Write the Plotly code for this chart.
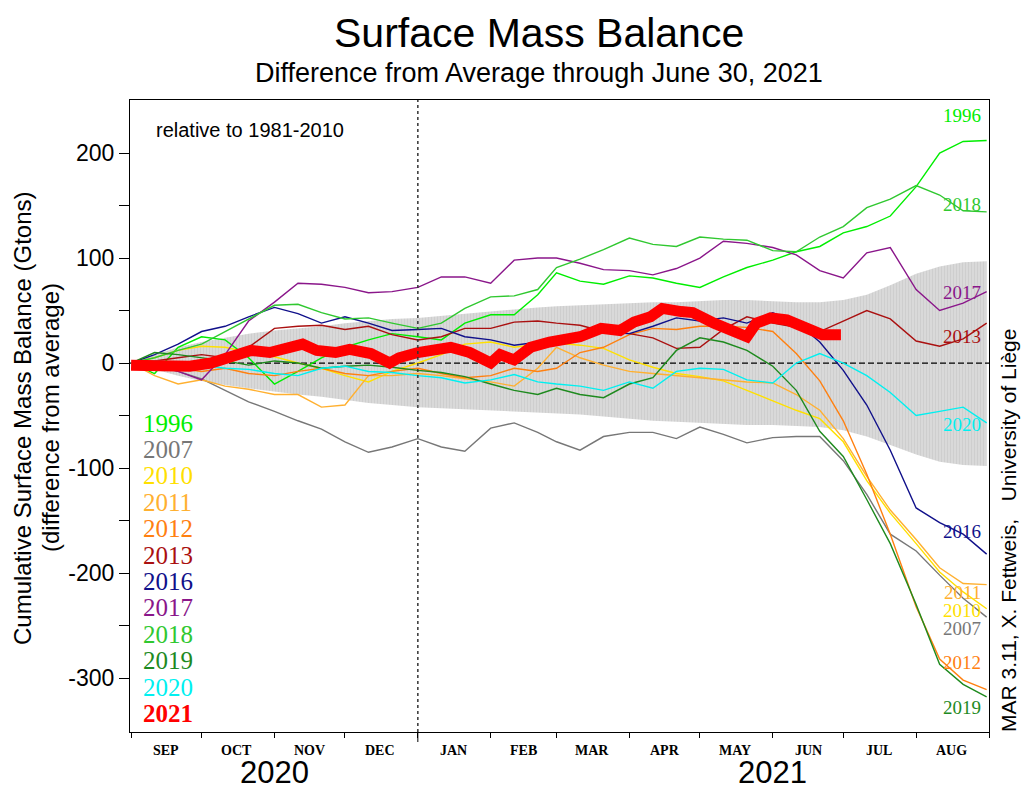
import plotly.graph_objects as go

# ---------------- data (Gt, difference from 1981-2010 average) ----------------
GRID_DATES = ["2020-09-01", "2020-09-11", "2020-09-21", "2020-10-01", "2020-10-11", "2020-10-21",
              "2020-11-01", "2020-11-11", "2020-11-21", "2020-12-01", "2020-12-11", "2020-12-21",
              "2021-01-01", "2021-01-11", "2021-01-21", "2021-02-01", "2021-02-11", "2021-02-21",
              "2021-03-01", "2021-03-11", "2021-03-21", "2021-04-01", "2021-04-11", "2021-04-21",
              "2021-05-01", "2021-05-11", "2021-05-21", "2021-06-01", "2021-06-11", "2021-06-21",
              "2021-07-01", "2021-07-11", "2021-07-21", "2021-08-01", "2021-08-11", "2021-08-21",
              "2021-08-31"]

BAND_UPPER = [0, 8, 15, 20, 24, 28, 31, 33, 35, 38, 40, 42, 43, 45, 47, 49, 51, 53, 54, 55, 56, 57,
              58, 58, 59, 60, 60, 59, 58, 58, 60, 65, 74, 85, 92, 96, 97]
BAND_LOWER = [0, -6, -12, -17, -21, -24, -27, -30, -32, -35, -38, -40, -42, -43, -44, -45, -46, -47,
              -48, -49, -51, -53, -55, -56, -57, -58, -59, -59, -60, -61, -64, -70, -78, -87, -94,
              -97, -98]

Y1996 = [0, -10, 15, 25, 22, 5, -20, -8, 5, 15, 22, 28, 25, 22, 38, 46, 46, 65, 86, 78, 75, 83, 81,
         76, 72, 82, 91, 98, 106, 111, 124, 130, 140, 168, 200, 211, 212]
Y2007 = [0, -2, -8, -15, -26, -37, -46, -55, -63, -75, -85, -80, -72, -80, -84, -62, -57, -66, -75,
         -83, -70, -66, -66, -72, -61, -68, -76, -71, -70, -70, -93, -125, -163, -179, -202, -224, -242]
Y2010 = [0, 5, 12, 16, 15, 10, 6, 0, -5, -12, -18, -8, 0, 8, 18, 20, 15, 18, 19, 17, 14, 3, -4, -10,
         -13, -17, -26, -36, -45, -53, -75, -112, -143, -172, -199, -218, -234]
Y2011 = [0, -12, -20, -16, -22, -25, -30, -30, -42, -40, -12, -12, -10, -12, -15, -18, -22, -5, 15, 5,
         -2, -8, -10, -12, -14, -16, -18, -19, -30, -45, -72, -108, -140, -168, -195, -210, -211]
Y2012 = [0, -3, -5, -8, -5, -10, -12, -8, -5, -10, -12, -8, -5, -10, -14, -12, -5, -8, -5, 10, 15, 27,
         33, 32, 35, 35, 34, 30, 9, -17, -55, -106, -163, -232, -282, -302, -311]
Y2013 = [0, 2, 5, 8, 5, 15, 33, 35, 36, 32, 35, 27, 22, 25, 33, 33, 39, 40, 38, 36, 30, 28, 24, 14,
         15, 32, 44, 38, 34, 30, 40, 50, 42, 21, 16, 23, 38]
Y2016 = [0, 8, 18, 30, 35, 44, 53, 47, 38, 44, 38, 31, 32, 33, 25, 22, 17, 20, 22, 25, 29, 28, 35, 43,
         40, 43, 38, 48, 39, 20, -7, -40, -83, -138, -152, -163, -182]
Y2017 = [0, -3, -8, -16, 8, 40, 58, 76, 75, 72, 67, 68, 72, 82, 82, 76, 98, 100, 100, 95, 89, 88, 84,
         90, 100, 116, 114, 110, 103, 88, 81, 105, 110, 70, 50, 57, 68]
Y2018 = [0, 5, 12, 18, 30, 42, 55, 56, 48, 42, 43, 38, 33, 38, 52, 63, 64, 70, 91, 99, 108, 119, 113,
         111, 120, 118, 117, 107, 106, 120, 130, 148, 156, 169, 160, 145, 144]
Y2019 = [0, 10, 8, 5, 2, -2, 2, 0, -5, -3, -2, -4, -7, -9, -13, -20, -26, -30, -24, -30, -33, -20,
         -14, 12, 24, 20, 12, -3, -26, -65, -89, -130, -172, -230, -287, -306, -318]
Y2020 = [0, 2, 0, -2, -5, -6, -10, -12, -5, -3, -8, -9, -12, -14, -19, -16, -11, -18, -20, -22, -26,
         -18, -24, -8, -5, -6, -16, -19, 0, 9, 0, -12, -28, -50, -46, -42, -57]

RED_DATES = ["2020-09-01", "2020-09-09", "2020-09-18", "2020-09-26", "2020-10-05", "2020-10-13",
             "2020-10-22", "2020-10-30", "2020-11-08", "2020-11-13", "2020-11-19", "2020-11-27",
             "2020-12-03", "2020-12-12", "2020-12-20", "2020-12-24", "2021-01-01", "2021-01-15",
             "2021-01-23", "2021-02-01", "2021-02-05", "2021-02-11", "2021-02-18", "2021-02-26",
             "2021-03-11", "2021-03-20", "2021-03-28", "2021-04-03", "2021-04-10", "2021-04-15",
             "2021-04-23", "2021-04-28", "2021-05-07", "2021-05-15", "2021-05-21", "2021-05-25",
             "2021-05-31", "2021-06-07", "2021-06-16", "2021-06-22", "2021-06-30"]
Y2021 = [-2, -2, -4, -3, 0, 5, 12, 10, 15, 18, 12, 10, 13, 9, 0, 5, 10, 15, 10, 0, 8, 3, 15, 20,
         25, 33, 31, 39, 44, 52, 49, 48, 38, 31, 25, 38, 43, 41, 34, 27, 27]

YEARS = ["1996", "2007", "2010", "2011", "2012", "2013", "2016", "2017", "2018", "2019", "2020"]
SERIES = [Y1996, Y2007, Y2010, Y2011, Y2012, Y2013, Y2016, Y2017, Y2018, Y2019, Y2020]
COLORS = ["#00ee00", "#777777", "#ffe000", "#ffb030", "#ff8010", "#aa1010", "#10108a",
          "#8a168a", "#30c830", "#1e8a1e", "#00f0f0"]
RED = "#ff0000"

MONTH_STARTS = ["2020-09-01", "2020-10-01", "2020-11-01", "2020-12-01", "2021-01-01", "2021-02-01",
                "2021-03-01", "2021-04-01", "2021-05-01", "2021-06-01", "2021-07-01", "2021-08-01",
                "2021-09-01"]
MONTH_MIDS = ["2020-09-16", "2020-10-16", "2020-11-16", "2020-12-16", "2021-01-16", "2021-02-15",
              "2021-03-16", "2021-04-16", "2021-05-16", "2021-06-16", "2021-07-16", "2021-08-16"]
MONTH_LABELS = ["SEP", "OCT", "NOV", "DEC", "JAN", "FEB", "MAR", "APR", "MAY", "JUN", "JUL", "AUG"]

# end-of-line labels: (year, pixel y)
END_LABELS = [("1996", 115), ("2018", 204), ("2017", 292), ("2013", 336), ("2020", 424),
              ("2016", 531), ("2011", 592), ("2010", 610), ("2007", 628), ("2012", 662),
              ("2019", 707)]

# ---------------- layout helpers ----------------
L, R, T, B = 130, 36, 100, 68
W, H = 1025, 800
PW, PH = W - L - R, H - T - B


def px(x):
    return (x - L) / PW


def py(y):
    return (H - B - y) / PH


SANS = "Liberation Sans, Arial, sans-serif"
SERIF = "Liberation Serif, Times New Roman, serif"
X_START, X_END = "2020-08-31 13:00", "2021-09-01 00:00"

fig = go.Figure()

# grey envelope
fig.add_trace(go.Scatter(x=GRID_DATES, y=BAND_LOWER, mode="lines", line=dict(width=0),
                         showlegend=False, hoverinfo="skip"))
fig.add_trace(go.Scatter(x=GRID_DATES, y=BAND_UPPER, mode="lines", line=dict(width=0),
                         fill="tonexty", fillcolor="#d6d6d6",
                         fillpattern=dict(shape="|", size=3, solidity=0.25,
                                          fgcolor="#bdbdbd", bgcolor="#d9d9d9"),
                         showlegend=False, hoverinfo="skip"))

# zero reference line
fig.add_trace(go.Scatter(x=[X_START, X_END], y=[0, 0], mode="lines",
                         line=dict(color="black", width=1.3, dash="6px,3px"),
                         showlegend=False, hoverinfo="skip"))

for yr, vals, col in zip(YEARS, SERIES, COLORS):
    fig.add_trace(go.Scatter(x=GRID_DATES, y=vals, mode="lines", name=yr,
                             line=dict(color=col, width=1.4), showlegend=False))

fig.add_trace(go.Scatter(x=RED_DATES, y=Y2021, mode="lines", name="2021",
                         line=dict(color=RED, width=11), showlegend=False))


def note(text, x, y, size, family=SANS, color="black", xanchor="center", angle=0,
         xref="paper"):
    return dict(text=text, x=x, y=y, xref=xref, yref="paper", xanchor=xanchor,
                yanchor="middle", textangle=angle, showarrow=False,
                font=dict(family=family, size=size, color=color))


ann = []
# titles
ann.append(note("Surface Mass Balance", px(539), py(33), 41))
ann.append(note("Difference from Average through June 30, 2021", px(539), py(73), 27))
ann.append(note("relative to 1981-2010", px(154), py(130), 20, xanchor="left"))
# y-axis titles
ann.append(note("Cumulative Surface Mass Balance (Gtons)", px(22), py(418), 24, angle=-90))
ann.append(note("(difference from average)", px(50), py(418), 24, angle=-90))
# credit
ann.append(note("MAR 3.11, X. Fettweis,   University of Liège", px(1008), py(531), 21,
                angle=-90))
# month labels
for m, lab in zip(MONTH_MIDS, MONTH_LABELS):
    ann.append(note("<b>" + lab + "</b>", m, py(750), 14, family=SERIF, xref="x"))
ann.append(note("2020", "2020-11-01", py(773), 31, xref="x"))
ann.append(note("2021", "2021-06-01", py(773), 31, xref="x"))
# left legend
for i, (yr, col) in enumerate(zip(YEARS + ["2021"], COLORS + [RED])):
    txt = "<b>" + yr + "</b>" if yr == "2021" else yr
    ann.append(note(txt, px(141), py(423 + i * 26.4), 25, family=SERIF, color=col,
                    xanchor="left"))
# end-of-line labels
cmap = dict(zip(YEARS, COLORS))
for yr, ypix in END_LABELS:
    ann.append(note(yr, px(983), py(ypix), 19, family=SERIF, color=cmap[yr], xanchor="right"))

shapes = [
    dict(type="line", xref="x", yref="paper", x0="2021-01-01", x1="2021-01-01", y0=0, y1=1,
         line=dict(color="#333333", width=1.5, dash="dot")),
    dict(type="line", xref="x", yref="paper", x0="2021-01-01", x1="2021-01-01", y0=py(742), y1=0,
         line=dict(color="black", width=1)),
]

Y_TICKS = [-300, -250, -200, -150, -100, -50, 0, 50, 100, 150, 200]
Y_TEXT = [str(v) if v % 100 == 0 else "" for v in Y_TICKS]

fig.update_layout(
    width=W, height=H, margin=dict(l=L, r=R, t=T, b=B, autoexpand=False),
    paper_bgcolor="white", plot_bgcolor="white",
    annotations=ann, shapes=shapes, showlegend=False,
    xaxis=dict(type="date", range=[X_START, X_END], tickmode="array", tickvals=MONTH_STARTS,
               showticklabels=False, ticks="outside", ticklen=5, tickcolor="black",
               showgrid=False, zeroline=False, showline=True, linecolor="black", linewidth=1,
               mirror=True),
    yaxis=dict(range=[-351.4, 250.5], tickmode="array", tickvals=Y_TICKS, ticktext=Y_TEXT,
               ticks="outside", ticklen=10, tickcolor="black",
               tickfont=dict(family=SANS, size=23, color="black"),
               showgrid=False, zeroline=False, showline=True, linecolor="black", linewidth=1,
               mirror=True),
)

fig.write_html("out.html", config={"displayModeBar": False},
               post_script="document.body.style.margin='0px';")
